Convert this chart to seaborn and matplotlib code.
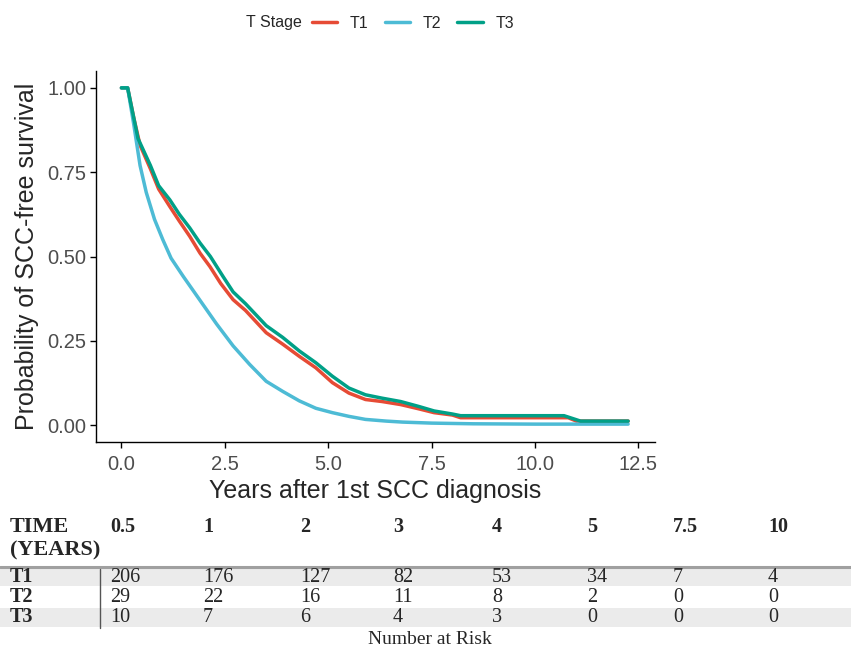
import matplotlib
matplotlib.use("Agg")
import matplotlib.pyplot as plt
from matplotlib.lines import Line2D
from matplotlib.patches import Rectangle
import seaborn as sns
import pandas as pd

# Kaplan-Meier curves (years after diagnosis, SCC-free survival)
t1_years = [0, 0.15, 0.3, 0.45, 0.7, 0.9, 1.17, 1.4, 1.65, 1.9, 2.14, 2.4, 2.7, 3.0, 3.5,
            3.9, 4.3, 4.7, 5.1, 5.5, 5.9, 6.3, 6.75, 7.2, 7.56, 8.0, 8.2, 10.8, 11.0, 12.25]
t1_surv = [1.0, 1.0, 0.91, 0.83, 0.76, 0.70, 0.648, 0.605, 0.56, 0.51, 0.47, 0.42, 0.372, 0.34, 0.274,
           0.24, 0.204, 0.17, 0.126, 0.095, 0.076, 0.07, 0.061, 0.048, 0.037, 0.03, 0.022, 0.022, 0.012, 0.012]

t2_years = [0, 0.15, 0.3, 0.45, 0.6, 0.8, 1.0, 1.2, 1.5, 1.9, 2.3, 2.7, 3.1, 3.5, 3.9,
            4.3, 4.7, 5.1, 5.5, 5.9, 6.4, 6.8, 7.5, 8.5, 10.0, 12.25]
t2_surv = [1.0, 1.0, 0.89, 0.77, 0.69, 0.61, 0.55, 0.495, 0.44, 0.37, 0.30, 0.235, 0.18, 0.13, 0.10,
           0.072, 0.05, 0.037, 0.026, 0.017, 0.012, 0.009, 0.006, 0.004, 0.003, 0.003]

t3_years = [0, 0.15, 0.3, 0.4, 0.7, 0.9, 1.17, 1.4, 1.65, 1.9, 2.15, 2.46, 2.7, 3.0, 3.5,
            3.9, 4.3, 4.7, 5.1, 5.5, 5.9, 6.3, 6.75, 7.2, 7.56, 8.0, 8.2, 10.7, 10.9, 11.1, 12.25]
t3_surv = [1.0, 1.0, 0.91, 0.85, 0.77, 0.71, 0.668, 0.625, 0.585, 0.54, 0.50, 0.44, 0.395, 0.36, 0.295,
           0.26, 0.22, 0.185, 0.145, 0.11, 0.09, 0.08, 0.07, 0.055, 0.042, 0.033, 0.028, 0.028, 0.02, 0.012, 0.012]

stages = ["T1", "T2", "T3"]
colors = ["#E64B35", "#4DBBD5", "#00A087"]

# number at risk table
risk_times = ["0.5", "1", "2", "3", "4", "5", "7.5", "10"]
risk_t1 = [206, 176, 127, 82, 53, 34, 7, 4]
risk_t2 = [29, 22, 16, 11, 8, 2, 0, 0]
risk_t3 = [10, 7, 6, 4, 3, 0, 0, 0]

curves = [(t1_years, t1_surv), (t2_years, t2_surv), (t3_years, t3_surv)]
df = pd.concat([pd.DataFrame({"years": x, "surv": y, "stage": s})
                for s, (x, y) in zip(stages, curves)], ignore_index=True)

sns.set_style("ticks")
plt.rcParams["font.family"] = ["Liberation Sans", "DejaVu Sans"]

W, H = 851, 650
fig = plt.figure(figsize=(W / 100, H / 100), dpi=100)
ax = fig.add_axes([96 / W, 1 - 442 / H, (655 - 96) / W, (442 - 71) / H])

sns.lineplot(data=df, x="years", y="surv", hue="stage", palette=dict(zip(stages, colors)),
             estimator=None, sort=False, linewidth=2.5, legend=False, ax=ax)

ax.set_xlim(-0.615, 12.9)
ax.set_ylim(-0.05, 1.05)
ax.set_xticks([0, 2.5, 5, 7.5, 10, 12.5])
ax.set_xticklabels(["0.0", "2.5", "5.0", "7.5", "10.0", "12.5"])
ax.set_yticks([0, 0.25, 0.5, 0.75, 1.0])
ax.set_yticklabels(["0.00", "0.25", "0.50", "0.75", "1.00"])
ax.tick_params(labelsize=14.5, labelcolor="#4D4D4D", color="black", length=4, width=1, pad=3)
ax.tick_params(axis="x", pad=5)
for side in ["left", "bottom"]:
    ax.spines[side].set_color("black")
    ax.spines[side].set_linewidth(1)
sns.despine(ax=ax)
ax.set_xlabel("Years after 1st SCC diagnosis", fontsize=18, labelpad=4)
ax.set_ylabel("Probability of SCC-free survival", fontsize=18, labelpad=6)

# legend on top, title to the left of the keys
handles = [Line2D([], [], color=c, lw=2.5) for c in colors]
fig.legend(handles, stages, loc="center", bbox_to_anchor=(413 / W, 1 - 23 / H), ncol=3,
           frameon=False, fontsize=11.5, handlelength=1.6, handletextpad=0.8, columnspacing=1.0)
fig.text(302 / W, 1 - 23 / H, "T Stage", fontsize=11.5, ha="right", va="center")

# number-at-risk table below the plot
tab = fig.add_axes([0, 0, 1, 1], zorder=-1)
tab.set_xlim(0, W)
tab.set_ylim(H, 0)
tab.axis("off")
serif = ["Liberation Serif", "DejaVu Serif"]
col_x = [110, 203, 300, 393, 492, 587, 673, 768]
row_y = [577, 597, 617]

tab.add_patch(Rectangle((0, 569), W, 17, color="#EBEBEB", lw=0))
tab.add_patch(Rectangle((0, 608), W, 19, color="#EBEBEB", lw=0))
tab.plot([0, W], [567, 567], color="#A0A0A0", lw=2.2)
tab.plot([100, 100], [569, 628], color="#555555", lw=1)

tab.text(10, 527, "TIME", family=serif, fontsize=16, fontweight="bold", va="center")
tab.text(10, 550, "(YEARS)", family=serif, fontsize=16, fontweight="bold", va="center")
for x, t in zip(col_x, risk_times):
    tab.text(x, 527, t, family=serif, fontsize=14.5, fontweight="bold", va="center")

for y, s, vals in zip(row_y, stages, [risk_t1, risk_t2, risk_t3]):
    tab.text(10, y, s, family=serif, fontsize=14.5, fontweight="bold", va="center")
    for x, v in zip(col_x, vals):
        tab.text(x, y, str(v), family=serif, fontsize=14.5, va="center")

tab.text(430, 640, "Number at Risk", family=serif, fontsize=14, ha="center", va="center")

fig.savefig("out.png", dpi=100)
